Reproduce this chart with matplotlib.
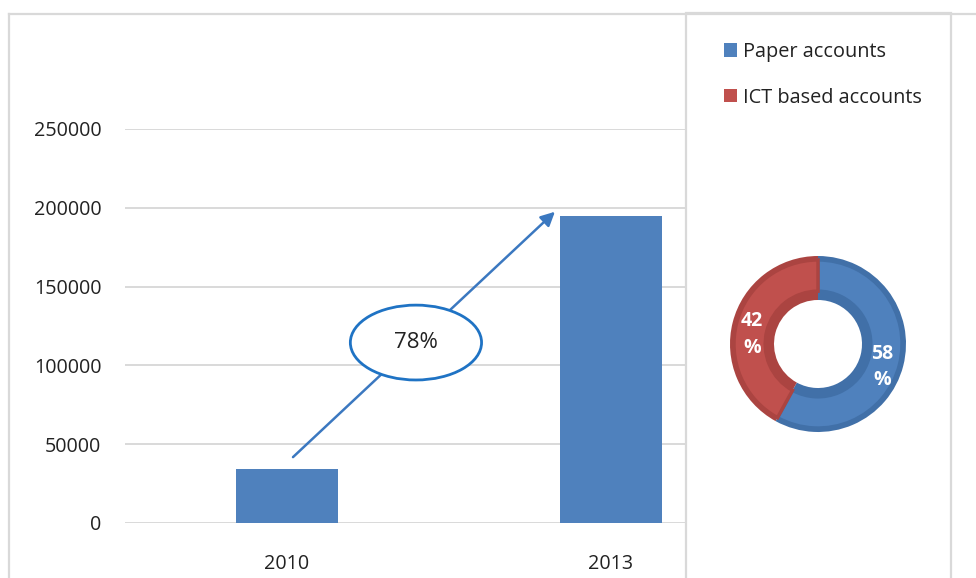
import matplotlib
matplotlib.use("Agg")
import matplotlib.pyplot as plt
from matplotlib.patches import Ellipse, Rectangle, Patch
from matplotlib.lines import Line2D

plt.rcParams["font.family"] = ["Open Sans", "DejaVu Sans"]

years = ["2010", "2013"]
accounts = [34000, 195000]
growth_label = "78%"

share_labels = ["Paper accounts", "ICT based accounts"]
share_values = [58, 42]
share_colors = ["#4F81BD", "#C0504D"]
share_edges = ["#4170A8", "#AB4441"]

W, H = 976, 578
fig = plt.figure(figsize=(W / 100, H / 100), dpi=100)
fig.patch.set_facecolor("white")


def fx(px):
    return px / W


def fy(py):
    return 1 - py / H


frame_col = "#d9d9d9"
# outer frame of the bar panel
fig.add_artist(Line2D([fx(9), fx(9)], [fy(14), fy(578)], color=frame_col, lw=1.6))
fig.add_artist(Line2D([fx(9), fx(976)], [fy(14), fy(14)], color=frame_col, lw=1.6))
# legend / donut box
fig.add_artist(Rectangle((fx(686), fy(580)), fx(951) - fx(686), fy(13) - fy(580),
                         facecolor="white", edgecolor=frame_col, lw=1.6, zorder=0))

# ---- bar chart ----
ax = fig.add_axes([fx(125), fy(523), fx(686) - fx(125), fy(129) - fy(523)])
ax.set_zorder(1)
ax.patch.set_alpha(0)
x = list(range(len(years)))
ax.bar(x, accounts, width=0.315, color="#4F81BD", zorder=3)
ax.set_xlim(-0.5, 1.2315)
ax.set_ylim(0, 250000)
ax.set_yticks(range(0, 250001, 50000))
ax.set_xticks(x)
ax.set_xticklabels(years)
ax.grid(axis="y", color=frame_col, lw=1.4, zorder=0)
ax.set_axisbelow(True)
for s in ax.spines.values():
    s.set_visible(False)
ax.tick_params(axis="both", length=0, labelsize=14.2, colors="#222222")
ax.tick_params(axis="y", pad=17)
ax.tick_params(axis="x", pad=22)

ax.annotate("", xy=(0.827, 197500), xytext=(0.0185, 41800),
            arrowprops=dict(arrowstyle="-|>", color="#3B78C0", lw=1.8,
                            mutation_scale=21, shrinkA=0, shrinkB=0),
            zorder=5, annotation_clip=False)
ell = Ellipse((0.398, 114500), 0.405, 47500, facecolor="white",
              edgecolor="#1F73C4", lw=2.0, zorder=6)
ax.add_patch(ell)
ax.text(0.398, 114500, growth_label, ha="center", va="center",
        fontsize=16, color="#222222", zorder=7)

# ---- donut ----
dax = fig.add_axes([fx(818 - 88), fy(344 + 88), fx(176), fy(0) - fy(176)])
dax.set_zorder(2)
dax.pie(share_values, colors=share_edges, startangle=90, counterclock=False,
        radius=1.0, wedgeprops=dict(width=0.5, edgecolor="none"))
inner, _ = dax.pie(share_values, colors=share_colors, startangle=90, counterclock=False,
                   radius=0.955, wedgeprops=dict(width=0.355, lw=2.5))
# darker bevel around each slice
for w, ec in zip(inner, share_edges):
    w.set_edgecolor(ec)
dax.set_aspect("equal")
dax.set_xlim(-1, 1)
dax.set_ylim(-1, 1)
dax.text(0.73, -0.26, f"{share_values[0]}\n%", ha="center", va="center",
         color="white", fontsize=14, fontweight="bold", linespacing=1.45)
dax.text(-0.75, 0.11, f"{share_values[1]}\n%", ha="center", va="center",
         color="white", fontsize=14, fontweight="bold", linespacing=1.45)

handles = [Patch(facecolor=c, edgecolor="none") for c in share_colors]
fig.legend(handles, share_labels, loc="upper left",
           bbox_to_anchor=(fx(716), fy(34)), frameon=False, fontsize=14.3,
           handlelength=0.65, handleheight=0.65, handletextpad=0.3,
           labelspacing=1.3, labelcolor="#222222", borderaxespad=0)

fig.savefig("out.png", dpi=100, facecolor="white")
